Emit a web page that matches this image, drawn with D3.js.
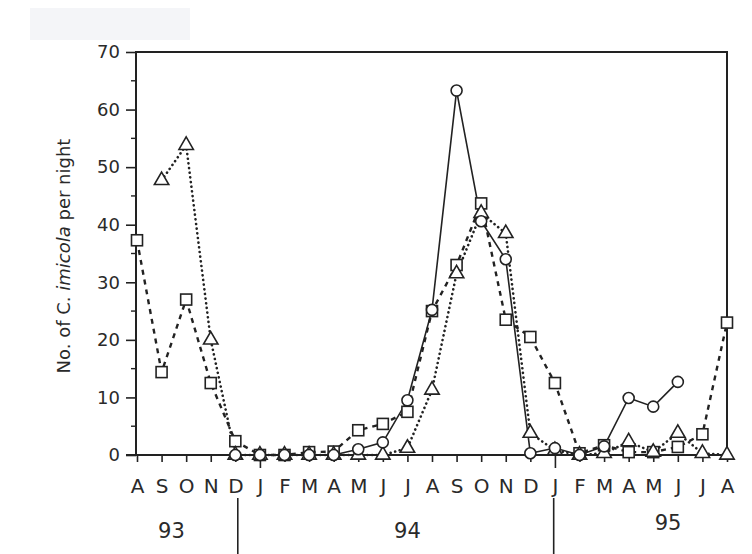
<!DOCTYPE html>
<html>
<head>
<meta charset="utf-8">
<script src="https://cdnjs.cloudflare.com/ajax/libs/d3/7.8.5/d3.min.js"></script>
<style>
body { margin: 0; background: #fff; }
svg { display: block; }
.lbl { font-family: "DejaVu Sans", sans-serif; fill: #2a2a2a; }
</style>
</head>
<body>
<div id="chart"></div>
<script>
// months Aug 93 .. Aug 95
var months = ["A","S","O","N","D","J","F","M","A","M","J","J","A","S","O","N","D","J","F","M","A","M","J","J","A"];
var years = [{label: "93", at: 1.4}, {label: "94", at: 11}, {label: "95", at: 21.6}];
var yearBreaks = [4.1, 16.95];
var yTicks = [0, 10, 20, 30, 40, 50, 60, 70];

// circles, solid line
var circleVals = [null, null, null, null, 0, 0, 0, 0, 0, 1.0, 2.2, 9.5, 25.2, 63.3, 40.6, 34, 0.3, 1.2, 0, 1.5, 9.9, 8.4, 12.7, null, null];
// squares, dashed line
var squareVals = [37.3, 14.4, 27, 12.5, 2.4, 0, 0, 0.5, 0.6, 4.3, 5.4, 7.5, 25, 33, 43.7, 23.5, 20.5, 12.5, 0.3, 1.7, 0.5, 0.5, 1.4, 3.6, 23];
// triangles, dotted line
var triangleVals = [null, 47.7, 53.8, 20, 0, 0, 0, 0, 0, 0, 0, 1.2, 11.3, 31.5, 42, 38.5, 3.8, 0.8, 0, 0.3, 2.3, 0.5, 3.8, 0.3, 0];

var W = 752, H = 554;
var svg = d3.select("#chart").append("svg").attr("width", W).attr("height", H);

// faint scan smudge top-left
svg.append("rect").attr("x", 30).attr("y", 8).attr("width", 160).attr("height", 32)
    .attr("fill", "#f4f5f8");

var x = d3.scaleLinear().domain([0, 24]).range([137, 727]);
var y = d3.scaleLinear().domain([0, 70]).range([455, 52]);

var ink = "#222";

// y axis
var yAx = svg.append("g").attr("transform", "translate(136,0)")
    .call(d3.axisLeft(y).tickValues(yTicks).tickSize(10).tickSizeOuter(0).tickPadding(6));
yAx.select(".domain").remove();
yAx.selectAll("line").attr("stroke", ink).attr("stroke-width", 1.6);
yAx.selectAll("text").attr("class", "lbl").style("font-size", "18px")
    .attr("font-family", null).attr("fill", null);
// minor ticks at 5s
svg.append("g").selectAll("line").data(d3.range(5, 70, 10)).join("line")
    .attr("x1", 131).attr("x2", 136)
    .attr("y1", function(d) { return y(d); }).attr("y2", function(d) { return y(d); })
    .attr("stroke", ink).attr("stroke-width", 1.4);

// x axis
var xAx = svg.append("g").attr("transform", "translate(0,455)")
    .call(d3.axisBottom(x).tickValues(d3.range(months.length))
        .tickFormat(function(i) { return months[i]; }).tickSize(7).tickSizeOuter(0));
xAx.select(".domain").remove();
xAx.selectAll("line").attr("stroke", ink).attr("stroke-width", 1.6)
    .attr("y2", function(d) { return d == 5 || d == 17 ? 13 : 7; });
xAx.selectAll("text").attr("class", "lbl").style("font-size", "20px")
    .attr("font-family", null).attr("fill", null)
    .attr("y", 38).attr("dy", 0);

// frame
svg.append("path")
    .attr("d", "M126,455H727V52H136V455")
    .attr("fill", "none").attr("stroke", ink).attr("stroke-width", 2);

// year labels and breaks
svg.append("g").selectAll("text").data(years).join("text")
    .attr("class", "lbl").style("font-size", "21px").attr("text-anchor", "middle")
    .attr("x", function(d) { return x(d.at); })
    .attr("y", function(d) { return d.label == "95" ? 530 : 538; })
    .text(function(d) { return d.label; });
svg.append("g").selectAll("line").data(yearBreaks).join("line")
    .attr("x1", function(d) { return x(d); }).attr("x2", function(d) { return x(d); })
    .attr("y1", 498).attr("y2", 554)
    .attr("stroke", ink).attr("stroke-width", 1.6);

// y axis title
var title = svg.append("text").attr("class", "lbl").style("font-size", "18px")
    .attr("text-anchor", "middle")
    .attr("transform", "translate(70,256) rotate(-90)");
title.append("tspan").text("No. of C. ");
title.append("tspan").style("font-style", "italic").text("imicola");
title.append("tspan").text(" per night");

// lines
function seriesLine(vals) {
    return d3.line()
        .defined(function(d) { return d != null; })
        .x(function(d, i) { return x(i); })
        .y(function(d) { return y(d); })(vals);
}
svg.append("path").attr("d", seriesLine(squareVals))
    .attr("fill", "none").attr("stroke", ink).attr("stroke-width", 2.4)
    .attr("stroke-dasharray", "5,5");
svg.append("path").attr("d", seriesLine(triangleVals))
    .attr("fill", "none").attr("stroke", ink).attr("stroke-width", 2.6)
    .attr("stroke-linecap", "round").attr("stroke-dasharray", "0.1,4.6");
svg.append("path").attr("d", seriesLine(circleVals))
    .attr("fill", "none").attr("stroke", ink).attr("stroke-width", 1.6);

// markers
function pts(vals) {
    return vals.map(function(v, i) { return {i: i, v: v}; })
        .filter(function(d) { return d.v != null; });
}
svg.append("g").selectAll("rect").data(pts(squareVals)).join("rect")
    .attr("x", function(d) { return x(d.i) - 5.5; })
    .attr("y", function(d) { return y(d.v) - 5.5; })
    .attr("width", 11).attr("height", 11)
    .attr("fill", "#fff").attr("stroke", ink).attr("stroke-width", 1.6);
svg.append("g").selectAll("path").data(pts(triangleVals)).join("path")
    .attr("d", d3.symbol().type(d3.symbolTriangle).size(90))
    .attr("transform", function(d) { return "translate(" + x(d.i) + "," + y(d.v) + ")"; })
    .attr("fill", "#fff").attr("stroke", ink).attr("stroke-width", 1.6);
svg.append("g").selectAll("circle").data(pts(circleVals)).join("circle")
    .attr("cx", function(d) { return x(d.i); })
    .attr("cy", function(d) { return y(d.v); })
    .attr("r", 5.5)
    .attr("fill", "#fff").attr("stroke", ink).attr("stroke-width", 1.6);
</script>
</body>
</html>
